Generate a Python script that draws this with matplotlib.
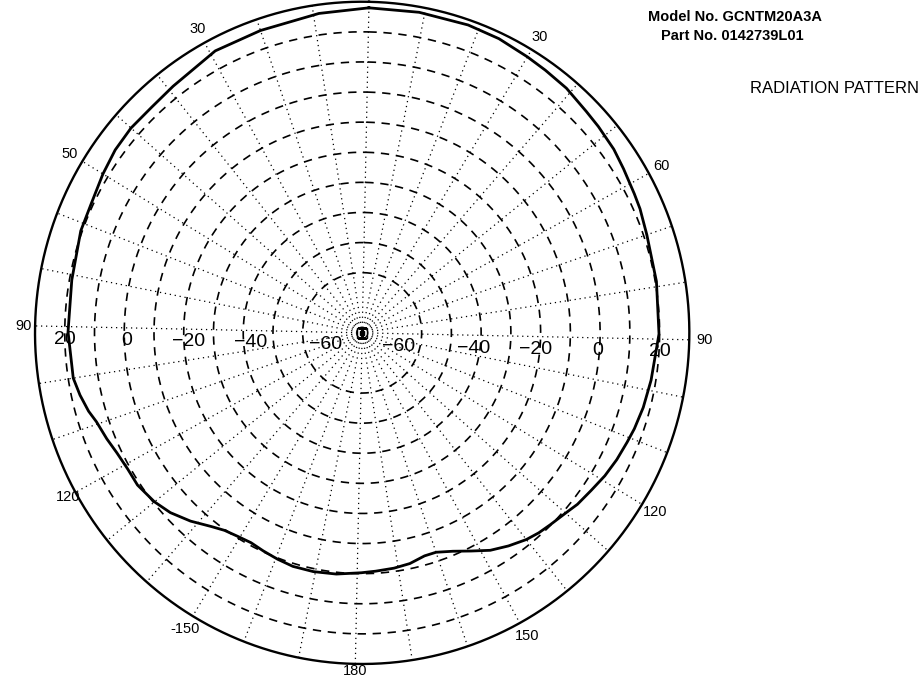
## Диаграмма направленности антенны (полярный график)
import numpy as np
import matplotlib.pyplot as plt

# углы (градусы, по часовой от севера) и уровень (дБ)
angles = [0, 9, 18, 24, 30, 34, 39, 44.5, 48, 53, 57, 62, 65, 70, 79, 89, 98, 103.5,
          108, 111, 115, 119, 123, 127, 130, 134, 137, 140, 144, 148, 152, 156, 160,
          163, 167, 171, 175.5, 179, 185, 190.5, 195.5, 199.5, 203.5, 207, 210.5,
          214, 217, 221.5, 226, 230, 233, 235, 239, 243, 246.5, 250.5, 253, 256.5,
          260, 269, 279, 288.5, 294, 300, 305, 310, 315.5, 321, 331, 340, 351]
levels = [28.0, 28.2, 28.3, 28.0, 27.2, 26.8, 26.4, 25.3, 24.9, 24.3, 23.4, 22.5, 22.1,
          21.1, 20.4, 19.8, 18.4, 17.7, 16.9, 16.2, 15.4, 14.4, 13.1, 12.1, 10.9, 9.8,
          9.1, 8.1, 6.2, 4.1, 1.2, -1.3, -3.0, -3.0, -1.7, -1.1, -0.7, -0.3, 0.6, 1.0,
          1.0, 0.4, -0.3, -0.9, -0.5, 0.3, 1.9, 5.1, 7.9, 9.6, 10.3, 10.9, 10.9, 11.6,
          12.8, 14.1, 15.6, 17.1, 18.3, 18.9, 19.2, 20.5, 20.7, 21.9, 22.9, 23.3, 23.1,
          23.7, 25.9, 26.1, 27.1]

r_min, r_max = -80, 30
circle_levels = [-60, -50, -40, -30, -20, -10, 0, 10, 20]
spoke_angles = list(range(0, 360, 10))
angle_labels = [30, 60, 90, 120, 150, 180, -30, -60, -90, -120, -150]
angle_texts = ['30', '60', '90', '120', '150', '180', '30', '50', '90', '120', '-150']
angle_label_r = [35, 35, 35, 35, 35, 32.5, 35, 35, 34, 33, 35]
radial_labels = [20, 0, -20, -40, -60]
radial_nudge = [0, 2, 5, 7, 23]  # сдвиг подписи к центру, px

plt.rcParams['font.family'] = ['Liberation Sans', 'DejaVu Sans']

fig = plt.figure(figsize=(9.19, 6.92), dpi=100)
ax = fig.add_axes([0.0381, 0.0405, 0.712, 0.957], projection='polar')
ax.set_aspect('auto')
ax.set_theta_direction(-1)
ax.set_theta_offset(np.pi / 2 - np.deg2rad(1.2))
ax.set_ylim(r_min, r_max)
ax.grid(False)
ax.set_xticks([])
ax.set_yticks([])
ax.spines['polar'].set_visible(False)

# сетка: пунктирные окружности и точечные лучи
th_full = np.linspace(0, 2 * np.pi, 721)
for lev in circle_levels:
    ax.plot(th_full, np.full_like(th_full, lev), color='black', lw=1.2,
            dashes=(5, 4))
for a in spoke_angles:
    t = np.deg2rad(a)
    ax.plot([t, t], [r_min, r_max], color='black', lw=0.9, linestyle=(0, (1, 3)))
# внешняя окружность
ax.plot(th_full, np.full_like(th_full, r_max), color='black', lw=1.7, clip_on=False)

# диаграмма
th = np.deg2rad(angles + [angles[0]])
rr = levels + [levels[0]]
ax.plot(th, rr, color='black', lw=2.0)

# маркер в центре
ax.plot([0], [r_min], marker='s', ms=7, mfc='none', mec='black', mew=1.0)
ax.plot([0], [r_min], marker='s', ms=2.5, color='black')

# подписи углов
for a, s, rl in zip(angle_labels, angle_texts, angle_label_r):
    ax.text(np.deg2rad(a), rl, s, ha='center', va='center', fontsize=10.5)

# подписи уровней вдоль горизонтальной оси
for side, sign in ((-90, 1), (90, -1)):
    for v, nd in zip(radial_labels, radial_nudge):
        ax.annotate(f'{v}'.replace('-', '\u2212'), xy=(np.deg2rad(side), v),
                    xytext=(sign * nd * 0.72, -3), textcoords='offset points',
                    ha='center', va='top', fontsize=14)

fig.text(0.800, 0.975, 'Model No. GCNTM20A3A', ha='center', va='center',
         fontsize=10.5, fontweight='bold')
fig.text(0.797, 0.948, 'Part No. 0142739L01', ha='center', va='center',
         fontsize=10.5, fontweight='bold')
fig.text(0.9995, 0.872, 'RADIATION PATTERN', ha='right', va='center', fontsize=12)

plt.savefig('out.png', dpi=100)
